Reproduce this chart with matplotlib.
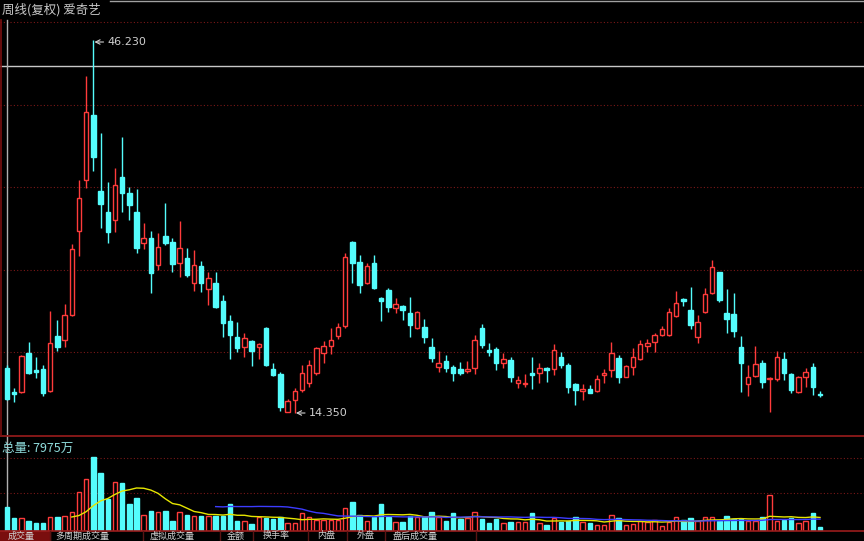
import matplotlib
matplotlib.use('Agg')
import matplotlib.pyplot as plt
from matplotlib.lines import Line2D
from matplotlib.patches import Rectangle
import numpy as np
import pandas as pd

plt.rcParams['font.family'] = ['Noto Sans CJK SC', 'DejaVu Sans']

title = '周线(复权) 爱奇艺'
vol_label = '总量: 7975万'
tabs = ['成交量', '多周期成交量', '虚拟成交量', '金额', '换手率', '内盘', '外盘', '盘后成交量']

# weekly OHLC
opens = [18.20, 16.15, 16.15, 19.48, 18.03, 18.11, 16.23, 20.93, 20.59, 22.73,
         29.91, 34.27, 39.82, 33.33, 31.53, 30.85, 34.52, 33.15, 31.53, 28.88,
         29.31, 27.00, 29.48, 28.97, 27.17, 27.60, 25.46, 26.92, 24.95, 25.46,
         23.92, 22.21, 20.85, 19.99, 20.50, 19.99, 21.62, 18.11, 17.68, 14.44,
         15.46, 16.32, 16.92, 17.77, 19.48, 20.08, 20.93, 21.79, 28.97, 27.26,
         25.46, 27.17, 24.18, 24.86, 23.33, 23.50, 22.90, 21.62, 21.70, 19.99,
         18.28, 18.80, 18.28, 18.11, 17.94, 18.20, 21.62, 19.74, 19.82, 18.62,
         18.88, 16.92, 16.83, 17.77, 17.77, 18.20, 18.11, 19.14, 18.45, 16.83,
         16.23, 16.40, 16.23, 17.60, 18.03, 19.05, 17.43, 18.28, 18.97, 20.08,
         20.42, 21.02, 21.02, 22.64, 24.09, 23.15, 20.85, 22.98, 24.61, 26.40,
         22.90, 22.81, 19.99, 16.83, 17.51, 18.62, 17.26, 17.26, 18.97, 17.68,
         16.15, 17.43, 18.28, 15.98]
highs = [18.45, 16.49, 19.31, 20.42, 19.14, 18.45, 23.07, 22.30, 23.67, 28.80,
         34.27, 43.15, 46.23, 38.28, 34.09, 35.29, 37.94, 33.67, 33.50, 30.59,
         29.91, 29.74, 32.30, 29.31, 30.76, 28.45, 28.28, 27.34, 26.40, 26.40,
         24.44, 22.73, 22.13, 21.19, 20.59, 20.33, 21.70, 18.62, 17.85, 15.55,
         16.49, 18.45, 18.88, 19.99, 20.50, 21.62, 22.04, 28.03, 29.05, 27.86,
         27.17, 27.86, 24.27, 25.03, 24.18, 23.58, 24.27, 23.07, 22.38, 20.76,
         19.65, 19.31, 18.45, 18.71, 18.80, 21.02, 21.96, 20.33, 19.99, 19.48,
         19.14, 17.51, 17.68, 19.14, 18.62, 18.28, 20.25, 19.56, 18.62, 16.92,
         16.83, 16.74, 17.60, 18.11, 20.42, 19.31, 18.45, 19.91, 20.59, 20.68,
         21.19, 21.79, 23.33, 24.78, 24.18, 25.12, 22.73, 25.03, 27.43, 26.40,
         24.95, 24.61, 20.93, 18.45, 20.08, 18.88, 17.43, 19.65, 19.56, 17.77,
         17.51, 18.20, 18.62, 16.23]
lows = [15.46, 15.29, 16.06, 17.68, 17.34, 15.80, 16.15, 19.65, 19.99, 22.64,
        27.77, 33.58, 35.03, 30.16, 28.88, 29.82, 31.53, 30.85, 28.03, 28.37,
        24.61, 26.57, 28.71, 26.40, 25.97, 25.97, 24.78, 24.69, 23.58, 23.33,
        20.85, 18.97, 19.56, 19.14, 18.37, 18.97, 18.37, 17.51, 14.52, 14.40,
        14.35, 16.15, 16.57, 17.60, 18.62, 19.39, 20.68, 21.62, 25.46, 24.61,
        25.38, 24.95, 22.21, 22.98, 22.90, 22.30, 20.85, 21.53, 20.33, 18.71,
        17.85, 17.85, 17.09, 17.60, 17.77, 17.68, 19.91, 19.22, 18.03, 18.20,
        17.00, 16.49, 16.57, 16.40, 16.92, 17.00, 17.60, 18.20, 16.06, 15.03,
        15.46, 16.06, 16.15, 16.92, 17.43, 16.92, 17.43, 17.60, 18.88, 19.56,
        19.56, 20.93, 20.93, 22.56, 23.50, 21.53, 20.33, 22.90, 24.52, 23.84,
        21.19, 20.85, 16.15, 15.80, 17.43, 16.49, 14.45, 17.09, 17.17, 16.06,
        16.06, 16.57, 15.89, 15.72]
closes = [15.55, 15.98, 19.22, 17.77, 17.86, 16.06, 20.33, 19.99, 22.73, 28.37,
          32.73, 40.08, 36.23, 32.21, 29.82, 33.84, 33.15, 32.13, 28.45, 29.31,
          26.32, 28.54, 28.88, 27.09, 28.45, 26.15, 27.00, 25.46, 25.89, 23.41,
          22.04, 21.02, 19.91, 20.76, 19.65, 20.25, 18.45, 17.60, 14.86, 15.38,
          16.23, 17.77, 18.45, 19.91, 20.08, 20.59, 21.70, 27.68, 27.17, 25.29,
          26.92, 25.03, 23.92, 23.41, 23.67, 23.15, 21.87, 22.98, 20.85, 19.05,
          18.62, 18.20, 17.77, 17.77, 18.11, 20.59, 20.16, 19.56, 18.62, 18.97,
          17.43, 17.17, 16.92, 17.60, 18.20, 18.03, 19.74, 18.45, 16.57, 16.32,
          16.40, 16.06, 17.26, 17.77, 19.48, 17.43, 18.37, 19.14, 20.25, 20.33,
          21.02, 21.53, 22.98, 23.75, 23.92, 21.87, 22.13, 24.52, 26.83, 24.01,
          22.38, 21.36, 18.62, 17.43, 18.54, 17.00, 17.34, 19.14, 17.77, 16.32,
          17.43, 17.85, 16.57, 15.89]
# weekly volume in 万
volumes = [7975, 4290, 4290, 3280, 2610, 2610, 4620, 4620, 4860, 6100,
           12800, 17250, 24520, 19160, 10550, 16350, 16010, 8880, 10790, 5190,
           6630, 6300, 6430, 3280, 6100, 5290, 4860, 4860, 4860, 4860,
           4860, 8880, 3180, 3280, 2180, 4420, 4090, 3750, 4420, 2410,
           2610, 5760, 4420, 3520, 3520, 3520, 3520, 7440, 9450, 5190,
           3280, 4420, 8880, 4420, 2950, 2950, 4960, 4420, 4420, 6100,
           4420, 3280, 5760, 3750, 4090, 6300, 3750, 2610, 3750, 2610,
           2950, 2950, 2950, 5760, 2410, 1840, 4090, 2950, 3280, 4620,
           2950, 2610, 1840, 1840, 5190, 4090, 1840, 2180, 3280, 2950,
           3520, 1510, 2950, 4420, 3520, 4090, 3280, 4420, 4620, 3280,
           4860, 3750, 3750, 3280, 3280, 4420, 11890, 3280, 3520, 4090,
           2610, 3280, 5960, 1270]

price_grid = [47.77, 40.68, 33.67, 26.57, 19.56]
vol_grid = [24290, 12560]
cursor_price = 44.01

red = '#ff3b3b'
cyan = '#54fcfc'
grid_red = '#7a1818'
W, H = 864, 541


def px_box(x0, y0, x1, y1):
    # pixel box (top-left origin) -> figure rect
    return [x0 / W, 1 - y1 / H, (x1 - x0) / W, (y1 - y0) / H]


fig = plt.figure(figsize=(W / 100, H / 100), dpi=100, facecolor='black')
ax = fig.add_axes(px_box(0, 0, W, 435))
axv = fig.add_axes(px_box(0, 436, W, 530.5))
for a in (ax, axv):
    a.set_facecolor('black')
    a.set_xticks([])
    a.set_yticks([])
    for s in a.spines.values():
        s.set_visible(False)
    a.set_xlim(-0.973, 119.11)
ax.set_ylim(12.47, 49.65)
axv.set_ylim(0, 31657)

x = np.arange(len(opens))
o, h, l, c = (np.array(v) for v in (opens, highs, lows, closes))
up = c >= o

# grid + cursor
for g in price_grid:
    ax.axhline(g, color=grid_red, lw=0.8, ls=(0, (1, 2)), zorder=0)
for g in vol_grid:
    axv.axhline(g, color=grid_red, lw=0.8, ls=(0, (1, 2)), zorder=0)
ax.axhline(cursor_price, color='#c8c8c8', lw=1, zorder=1)
ax.axvline(0, ymax=1 - 20 / 435, color='#b0b0b0', lw=1, zorder=1)
axv.axvline(0, color='#b0b0b0', lw=1, zorder=1)

# candles
ax.vlines(x, l, h, colors=np.where(up, red, cyan), lw=1, zorder=2)
bottom = np.minimum(o, c)
height = np.maximum(np.abs(c - o), 0.02)
ax.bar(x[up], height[up], bottom=bottom[up], width=0.62,
       facecolor='black', edgecolor=red, lw=1, zorder=3)
ax.bar(x[~up], height[~up], bottom=bottom[~up], width=0.62,
       facecolor=cyan, edgecolor=cyan, lw=1, zorder=3)

# extremes
i_hi = int(np.argmax(h))
i_lo = int(np.argmin(l))
for i, p, yy in ((i_hi, h[i_hi], h[i_hi] - 0.17), (i_lo, l[i_lo], l[i_lo])):
    ax.annotate(f'{p:.3f}', xy=(i + 0.15, yy), xytext=(i + 2.0, yy),
                color='#d0d0d0', fontsize=8, va='center', ha='left', family='DejaVu Sans',
                arrowprops=dict(arrowstyle='->', color='#d0d0d0', lw=0.8,
                                shrinkA=1, shrinkB=0), zorder=5)

# volume
v = np.array(volumes)
axv.bar(x[up], v[up], width=0.62, facecolor='black', edgecolor=red, lw=1, zorder=2)
axv.bar(x[~up], v[~up], width=0.62, facecolor=cyan, edgecolor=cyan, lw=1, zorder=2)
vs = pd.Series(v, dtype=float)
axv.plot(x, vs.rolling(10).mean(), color='#e6e600', lw=1, zorder=3)
axv.plot(x, vs.rolling(30).mean(), color='#3c3cff', lw=1, zorder=3)

# frame lines
for yy in (435.5, 530.5):
    fig.add_artist(Line2D([0, 1], [1 - yy / H] * 2, color='#9a1c1c', lw=1.2))
fig.add_artist(Line2D([110 / W, 1], [1 - 1 / H] * 2, color='#a0a0a0', lw=1))
fig.add_artist(Line2D([0.6 / W] * 2, [1 - 435 / H, 1 - 20 / H], color='#7a1010', lw=1.2))

fig.text(2 / W, 1 - 10 / H, title, color='#c8c8c8', fontsize=9, va='center')
fig.text(2 / W, 1 - 448 / H, vol_label, color='#8fdcdc', fontsize=9, va='center')

# indicator tabs along the bottom
fig.add_artist(Rectangle((0, 0), 50 / W, 10 / H, color='#7a0e0e', transform=fig.transFigure))
tab_x = [8, 55, 150, 227, 263, 317, 357, 393]
for t, tx in zip(tabs, tab_x):
    fig.text(tx / W, 0.6 / H, t, color='#d0d0d0', fontsize=6.5, va='bottom', zorder=5)
for sx in [50, 143, 220, 253, 308, 347, 385, 476]:
    fig.add_artist(Line2D([sx / W] * 2, [0, 10 / H], color='#5a1414', lw=1))

fig.savefig('out.png', dpi=100, facecolor='black')
